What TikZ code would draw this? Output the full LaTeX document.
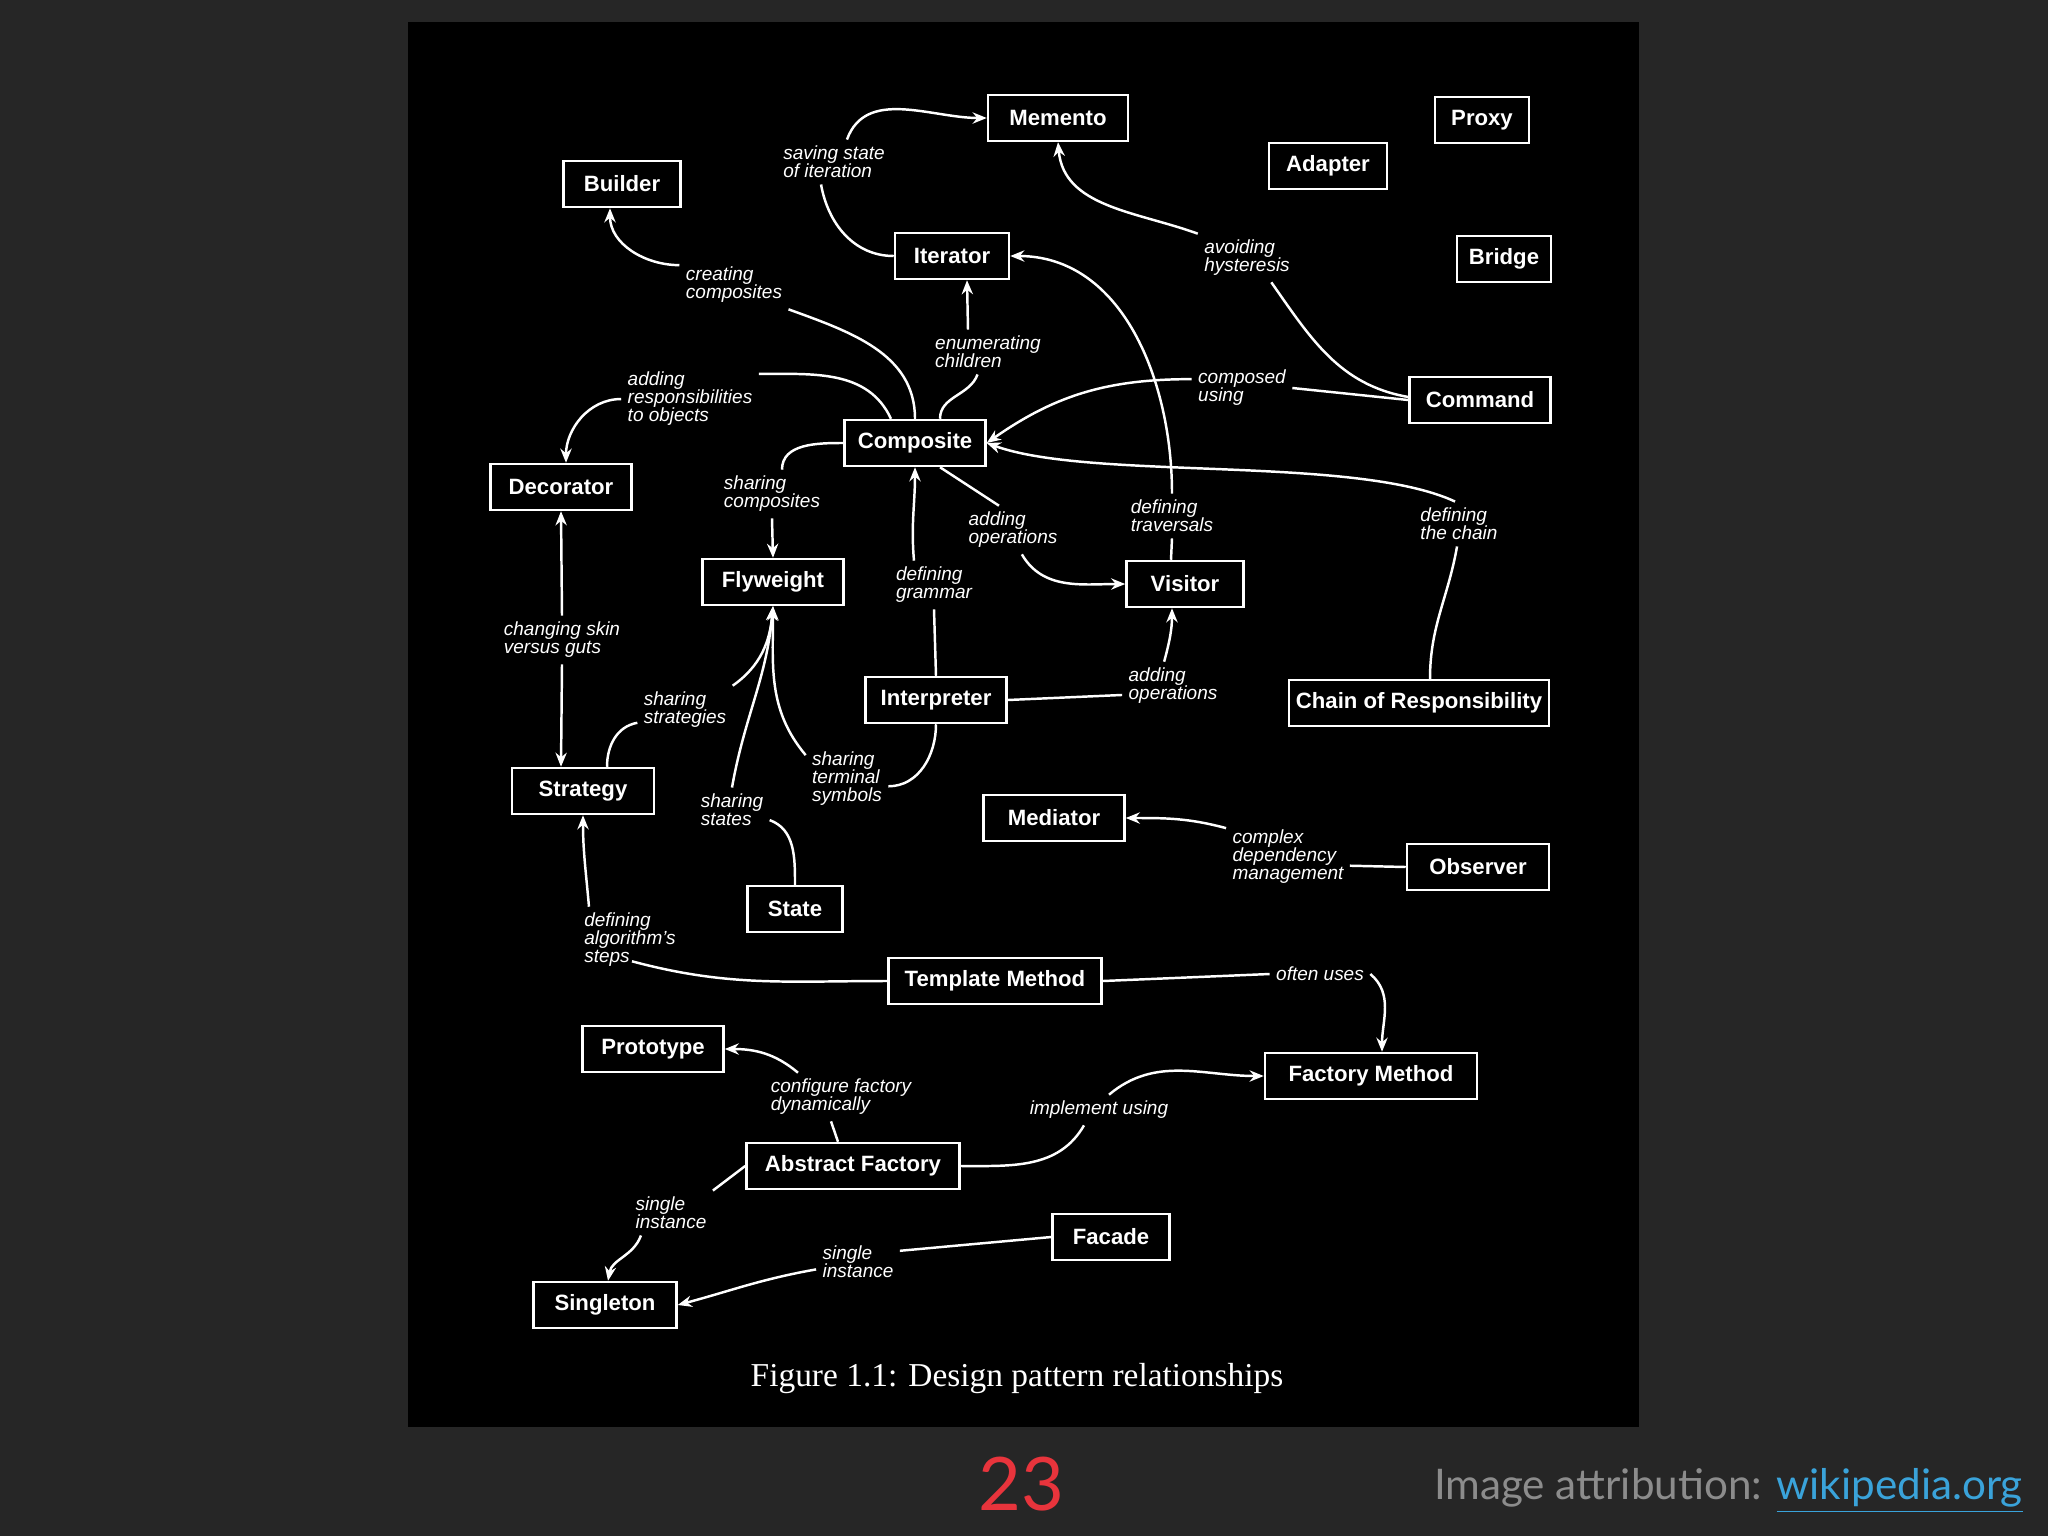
\documentclass[tikz,border=0pt]{standalone}
\usepackage{fontspec}
\setmainfont{Liberation Serif}
\setsansfont{Liberation Sans}
\newfontfamily\slidefont{Lato}
\usepackage{tikz}
\usetikzlibrary{arrows.meta}
\definecolor{slidebg}{HTML}{262626}
\definecolor{slidered}{HTML}{E8343C}
\definecolor{slidegray}{HTML}{8C8C8C}
\definecolor{linkblue}{HTML}{3AA3DA}
\tikzset{
    patbox/.style={
           rectangle,
           draw=white, line width=0.7pt,
           minimum height=0.46cm,
           inner sep=1pt,
           text=white,
           font=\sffamily\bfseries\fontsize{6.3}{7}\selectfont,
           text centered,
           },
    rel/.style={
           align=left,
           inner sep=1.5pt,
           text=white,
           font=\sffamily\itshape\fontsize{5.4}{5.1}\selectfont,
           },
}
\begin{document}
\begin{tikzpicture}[x=0.01cm,y=-0.01cm,>={Stealth[length=4pt,width=3.2pt]},line width=0.7pt,white]
    \fill[slidebg] (0,0) rectangle (2048,1536);
    \fill[black] (408,22) rectangle (1639,1427);
    \useasboundingbox (0,0) rectangle (2048,1536);
    % patterns
    \node[patbox,minimum width=1.40cm] (mem)     at (1058,118)  {Memento};
    \node[patbox,minimum width=0.94cm] (proxy)   at (1482,120)  {Proxy};
    \node[patbox,minimum width=1.18cm] (adapter) at (1328,166)  {Adapter};
    \node[patbox,minimum width=1.17cm] (builder) at (622,184)   {Builder};
    \node[patbox,minimum width=1.14cm] (iter)    at (952,256)   {Iterator};
    \node[patbox,minimum width=0.94cm] (bridge)  at (1504,259)  {Bridge};
    \node[patbox,minimum width=1.41cm] (cmd)     at (1480,400)  {Command};
    \node[patbox,minimum width=1.41cm] (comp)    at (915,443)   {Composite};
    \node[patbox,minimum width=1.41cm] (deco)    at (561,487)   {Decorator};
    \node[patbox,minimum width=1.41cm] (fly)     at (773,582)   {Flyweight};
    \node[patbox,minimum width=1.17cm] (visitor) at (1185,584)  {Visitor};
    \node[patbox,minimum width=1.41cm] (interp)  at (936,700)   {Interpreter};
    \node[patbox,minimum width=2.60cm] (chain)   at (1419,703)  {Chain of Responsibility};
    \node[patbox,minimum width=1.42cm] (strat)   at (583,791)   {Strategy};
    \node[patbox,minimum width=1.41cm] (med)     at (1054,818)  {Mediator};
    \node[patbox,minimum width=1.42cm] (obs)     at (1478,867)  {Observer};
    \node[patbox,minimum width=0.95cm] (state)   at (795,909)   {State};
    \node[patbox,minimum width=2.13cm] (tm)      at (995,981)   {Template Method};
    \node[patbox,minimum width=1.41cm] (proto)   at (653,1049)  {Prototype};
    \node[patbox,minimum width=2.12cm] (fm)      at (1371,1076) {Factory Method};
    \node[patbox,minimum width=2.13cm] (af)      at (853,1166)  {Abstract Factory};
    \node[patbox,minimum width=1.17cm] (facade)  at (1111,1237) {Facade};
    \node[patbox,minimum width=1.43cm] (single)  at (605,1305)  {Singleton};
    % relationship labels
    \node[rel] (lsave)    at (834,162)  {saving state\\of iteration};
    \node[rel] (lcreate)  at (734,285)  {creating\\composites};
    \node[rel] (lenum)    at (988,352)  {enumerating\\children};
    \node[rel] (lresp)    at (690,399)  {adding\\responsibilities\\to objects};
    \node[rel] (lhyst)    at (1247,258) {avoiding\\hysteresis};
    \node[rel] (lcomp)    at (1242,388) {composed\\using};
    \node[rel] (lshcomp)  at (772,494)  {sharing\\composites};
    \node[rel] (laddop)   at (1013,530) {adding\\operations};
    \node[rel] (ltrav)    at (1172,516) {defining\\traversals};
    \node[rel] (lchain)   at (1459,524) {defining\\the chain};
    \node[rel] (lgram)    at (934,585)  {defining\\grammar};
    \node[rel] (lskin)    at (562,640)  {changing skin\\versus guts};
    \node[rel] (lshstrat) at (685,710)  {sharing\\strategies};
    \node[rel] (laddop2)  at (1173,686) {adding\\operations};
    \node[rel] (lterm)    at (847,779)  {sharing\\terminal\\symbols};
    \node[rel] (lstates)  at (732,810)  {sharing\\states};
    \node[rel] (lcplx)    at (1288,857) {complex\\dependency\\management};
    \node[rel] (lalgo)    at (630,940)  {defining\\algorithm's\\steps};
    \node[rel] (loften)   at (1320,974) {often uses};
    \node[rel] (lconf)    at (841,1097) {configure factory\\dynamically};
    \node[rel] (limpl)    at (1099,1110) {implement using};
    \node[rel] (lsingA)   at (671,1213) {single\\instance};
    \node[rel] (lsingB)   at (858,1262) {single\\instance};
    % line up to the labels
    \path
    (iter.west) edge[out=180,in=-80] (lsave.-120)
    (comp.north) edge[out=90,in=-20] (lcreate.south east)
    ([xshift=.25cm]comp.north) edge[out=90,in=-110] (lenum.-115)
    ([xshift=-.24cm]comp.north) edge[out=115,in=0] (lresp.20)
    (comp.west) edge[out=180,in=90] ([xshift=.1cm]lshcomp.north)
    ([xshift=.25cm]comp.south) edge (laddop.120)
    (interp.north) edge (lgram.south)
    ([xshift=-.14cm]visitor.north) edge (ltrav.south)
    (cmd.west) edge (lcomp.east)
    ([yshift=.03cm]cmd.west) edge[out=170,in=-55] (lhyst.-45)
    ([xshift=.11cm]chain.north) edge[out=90,in=-100] (lchain.-95)
    ([xshift=.24cm]strat.north) edge[out=90,in=190] (lshstrat.-165)
    (state.north) edge[out=90,in=-20] (lstates.-15)
    (interp.south) edge[out=-90,in=0] (lterm.-10)
    (interp.east) edge (laddop2.190)
    (obs.west) edge (lcplx.-8)
    (tm.west) edge[out=180,in=-15] ([xshift=.02cm,yshift=.12cm]lalgo.south)
    (tm.east) edge (loften.west)
    ([xshift=-.15cm]af.north) edge ([xshift=-.1cm]lconf.south)
    (af.east) edge[out=0,in=-120] ([xshift=-.15cm]limpl.south)
    (af.west) edge (lsingA.north east)
    (facade.west) edge (lsingB.15);
    % and on to the patterns
    \path[->]
    (lsave.60) edge[out=70,in=180] (mem.west)
    (lcreate.160) edge[out=180,in=-90] ([xshift=-.12cm]builder.south)
    ([xshift=-.2cm]lenum.north) edge ([xshift=.15cm]iter.south)
    (lresp.west) edge[out=180,in=90] ([xshift=.05cm]deco.north)
    (lshcomp.south) edge (fly.north)
    (laddop.-70) edge[out=-60,in=180] (visitor.west)
    ([xshift=-.2cm]lgram.north) edge[out=95,in=-90] (comp.south)
    (ltrav.north) edge[out=90,in=0] (iter.east)
    (lcomp.170) edge[out=180,in=35] (comp.east)
    (lchain.100) edge[out=155,in=-20,looseness=.6] (comp.east)
    (lhyst.north west) edge[out=160,in=-85] (mem.south)
    (lskin.north) edge (deco.south)
    (lskin.south) edge ([xshift=-.22cm]strat.north)
    (lshstrat.north east) edge[out=35,in=-95] (fly.south)
    (lstates.north) edge[out=80,in=-95] (fly.south)
    (lterm.150) edge[out=130,in=-90] (fly.south)
    (laddop2.110) edge[out=75,in=-90] ([xshift=-.13cm]visitor.south)
    (lcplx.155) edge[out=165,in=0] (med.east)
    ([xshift=-.41cm]lalgo.north) edge[out=95,in=-90] (strat.south)
    (loften.east) edge[out=-40,in=90] ([xshift=.11cm]fm.north)
    ([xshift=-.43cm]lconf.north) edge[out=140,in=0] (proto.east)
    ([xshift=.1cm]limpl.north) edge[out=40,in=180] (fm.west)
    ([xshift=-.3cm]lsingA.south) edge[out=-110,in=80] ([xshift=.03cm]single.north)
    (lsingB.190) edge[out=190,in=15] (single.east);
    % caption and slide footer
    \node[font=\rmfamily\fontsize{9.5}{11}\selectfont,anchor=base] (caption) at (1017,1386) {Figure 1.1: Design pattern relationships};
    \node[font=\slidefont\fontsize{21}{24}\selectfont,text=slidered,anchor=base] (slidenum) at (1021,1510) {23};
    \node[font=\slidefont\fontsize{12}{14}\selectfont,text=slidegray,anchor=base east,inner sep=0pt] (attrib) at (2024,1499) {Image attribution: {\color{linkblue}\underline{wikipedia.org}}};
\end{tikzpicture}
\end{document}
